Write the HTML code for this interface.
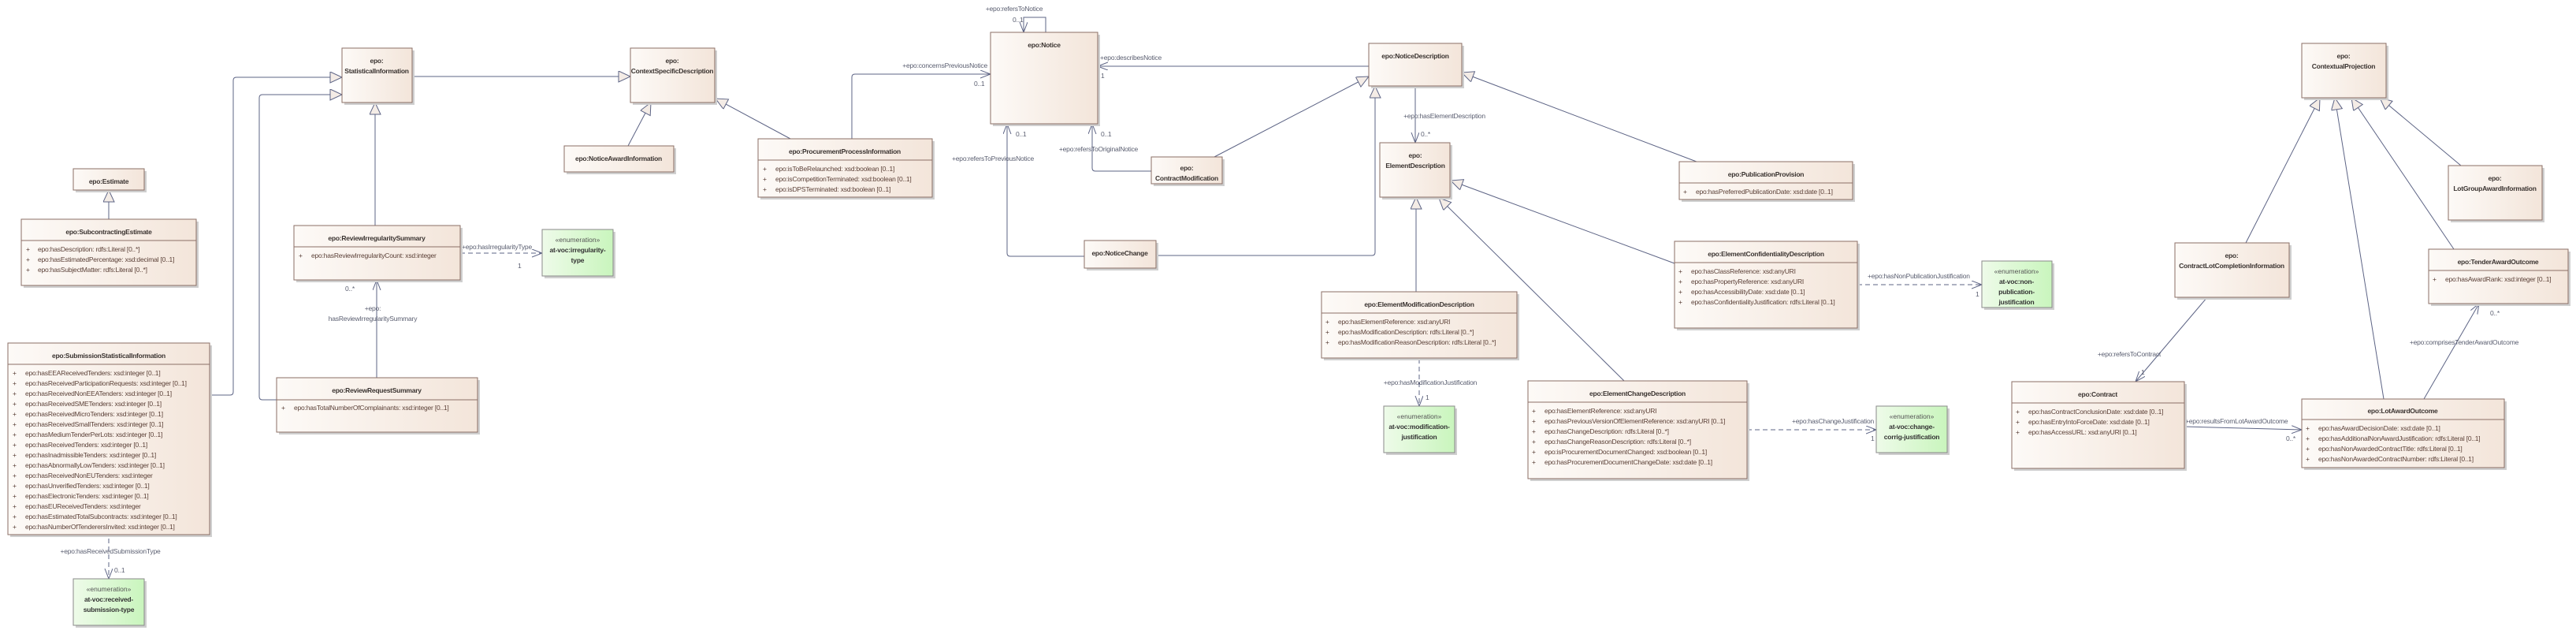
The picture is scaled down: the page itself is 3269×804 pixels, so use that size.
<!DOCTYPE html>
<html><head><meta charset="utf-8"><style>
html,body{margin:0;padding:0;background:#fff;}
svg{display:block;}
text{font-family:"Liberation Sans",sans-serif;font-size:8.5px;}
.t{font-weight:bold;fill:#3a3330;text-anchor:middle;letter-spacing:-0.25px;}
.a{fill:#5a3f36;letter-spacing:-0.2px;}
.l{fill:#5a5e70;letter-spacing:-0.2px;}
.e{fill:#555;text-anchor:middle;}
.eb{font-weight:bold;fill:#333;text-anchor:middle;letter-spacing:-0.2px;}
.c{fill:none;stroke:#5d6485;stroke-width:1;}
.d{fill:none;stroke:#5d6485;stroke-width:1;stroke-dasharray:6,4;}
.box{fill:url(#g);stroke:#8b6f66;stroke-width:1;}
.enum{fill:url(#ge);stroke:#8a8a8a;stroke-width:1;}
.sh{fill:#cfcfcf;}
</style></head><body>
<svg width="3269" height="804" viewBox="0 0 3269 804" xmlns="http://www.w3.org/2000/svg">
<defs>
<linearGradient id="g" x1="0" x2="1" y1="0" y2="0"><stop offset="0" stop-color="#fdfaf7"/><stop offset="1" stop-color="#f3e5da"/></linearGradient>
<linearGradient id="ge" x1="0" x2="1" y1="0" y2="0"><stop offset="0" stop-color="#eefbe9"/><stop offset="1" stop-color="#c9f5bd"/></linearGradient>
<marker id="gen" markerUnits="userSpaceOnUse" markerWidth="18" markerHeight="16" refX="16" refY="7" orient="auto"><path d="M1,0 L16,7 L1,14 z" fill="#f4ece6" stroke="#5d6485" stroke-width="1"/></marker>
<marker id="arr" markerUnits="userSpaceOnUse" markerWidth="14" markerHeight="12" refX="13" refY="5" orient="auto"><path d="M0,0 L13,5 L0,10" fill="none" stroke="#5d6485" stroke-width="1"/></marker>
</defs>

<!-- connectors: generalizations -->
<g class="c" marker-end="url(#gen)">
<path class="c" marker-end="url(#gen)" d="M266,501 H292 Q296,501 296,497 V102 Q296,98 300,98 H434"/>
<path class="c" marker-end="url(#gen)" d="M351,507 H333 Q329,507 329,503 V124 Q329,120 333,120 H434"/>
<path class="c" marker-end="url(#gen)" d="M523,97 H800"/>
<path class="c" marker-end="url(#gen)" d="M476,286 V130"/>
<path class="c" marker-end="url(#gen)" d="M138,278 V241"/>
<path class="c" marker-end="url(#gen)" d="M797,185 L826,130"/>
<path class="c" marker-end="url(#gen)" d="M1003,176 L908,125"/>
<path class="c" marker-end="url(#gen)" d="M1541,199 L1737,97"/>
<path class="c" marker-end="url(#gen)" d="M1467,324 H1741 Q1745,324 1745,320 V109"/>
<path class="c" marker-end="url(#gen)" d="M2153,205 L1855,92"/>
<path class="c" marker-end="url(#gen)" d="M2125,334 L1841,229"/>
<path class="c" marker-end="url(#gen)" d="M2061,483 L1826,251"/>
<path class="c" marker-end="url(#gen)" d="M1797,370 V250"/>
<path class="c" marker-end="url(#gen)" d="M2850,308 L2944,124"/>
<path class="c" marker-end="url(#gen)" d="M3025,506 L2963,124"/>
<path class="c" marker-end="url(#gen)" d="M3114,316 L2984,124"/>
<path class="c" marker-end="url(#gen)" d="M3123,210 L3020,124"/>
</g>
<!-- associations -->
<path class="c" marker-end="url(#arr)" d="M1081,176 V98 Q1081,94 1085,94 H1257"/>
<path class="c" marker-end="url(#arr)" d="M1327,41 V22 H1299 V41"/>
<path class="c" marker-end="url(#arr)" d="M1737,84 H1393"/>
<path class="c" marker-end="url(#arr)" d="M1376,325 H1282 Q1278,325 1278,321 V157"/>
<path class="c" marker-end="url(#arr)" d="M1461,217 H1390 Q1386,217 1386,213 V157"/>
<path class="c" marker-end="url(#arr)" d="M1796,109 V181"/>
<path class="c" marker-end="url(#arr)" d="M478,479 V355"/>
<path class="d" marker-end="url(#arr)" d="M584,321 H688"/>
<path class="d" marker-end="url(#arr)" d="M138,683 V734"/>
<path class="d" marker-end="url(#arr)" d="M1801,455 V515"/>
<path class="d" marker-end="url(#arr)" d="M2217,545 H2381"/>
<path class="d" marker-end="url(#arr)" d="M2357,361 H2515"/>
<path class="c" marker-end="url(#arr)" d="M2801,377 L2710,484"/>
<path class="c" marker-end="url(#arr)" d="M2772,541 L2921,545"/>
<path class="c" marker-end="url(#arr)" d="M3076,506 L3146,385"/>

<!-- connector labels -->
<text class="l" x="586" y="316">+epo:hasIrregularityType</text>
<text class="l" x="657" y="340">1</text>
<text class="l" x="438" y="369">0..*</text>
<text class="l" x="473" y="394" text-anchor="middle">+epo:</text>
<text class="l" x="473" y="407" text-anchor="middle">hasReviewIrregularitySummary</text>
<text class="l" x="140" y="702" text-anchor="middle">+epo:hasReceivedSubmissionType</text>
<text class="l" x="145" y="726">0..1</text>
<text class="l" x="1253" y="86" text-anchor="end">+epo:concernsPreviousNotice</text>
<text class="l" x="1236" y="109">0..1</text>
<text class="l" x="1287" y="14" text-anchor="middle">+epo:refersToNotice</text>
<text class="l" x="1285" y="28">0..1</text>
<text class="l" x="1396" y="76">+epo:describesNotice</text>
<text class="l" x="1397" y="99">1</text>
<text class="l" x="1260" y="204" text-anchor="middle">+epo:refersToPreviousNotice</text>
<text class="l" x="1289" y="173">0..1</text>
<text class="l" x="1394" y="192" text-anchor="middle">+epo:refersToOriginalNotice</text>
<text class="l" x="1397" y="173">0..1</text>
<text class="l" x="1833" y="150" text-anchor="middle">+epo:hasElementDescription</text>
<text class="l" x="1803" y="173">0..*</text>
<text class="l" x="1815" y="488" text-anchor="middle">+epo:hasModificationJustification</text>
<text class="l" x="1809" y="507">1</text>
<text class="l" x="2378" y="537" text-anchor="end">+epo:hasChangeJustification</text>
<text class="l" x="2374" y="559">1</text>
<text class="l" x="2370" y="353">+epo:hasNonPublicationJustification</text>
<text class="l" x="2507" y="376">1</text>
<text class="l" x="2702" y="452" text-anchor="middle">+epo:refersToContract</text>
<text class="l" x="2717" y="475">1</text>
<text class="l" x="2773" y="537">+epo:resultsFromLotAwardOutcome</text>
<text class="l" x="2901" y="559">0..*</text>
<text class="l" x="3127" y="437" text-anchor="middle">+epo:comprisesTenderAwardOutcome</text>
<text class="l" x="3160" y="400">0..*</text>

<!-- simple classes -->
<g>
<rect class="sh" x="437" y="64" width="89" height="69"/><rect class="box" x="434" y="61" width="89" height="69"/>
<text class="t" x="478" y="80">epo:</text><text class="t" x="478" y="93">StatisticalInformation</text>
<rect class="sh" x="803" y="64" width="107" height="69"/><rect class="box" x="800" y="61" width="107" height="69"/>
<text class="t" x="853" y="80">epo:</text><text class="t" x="853" y="93">ContextSpecificDescription</text>
<rect class="sh" x="719" y="188" width="139" height="33"/><rect class="box" x="716" y="185" width="139" height="33"/>
<text class="t" x="785" y="204">epo:NoticeAwardInformation</text>
<rect class="sh" x="96" y="217" width="90" height="27"/><rect class="box" x="93" y="214" width="90" height="27"/>
<text class="t" x="138" y="233">epo:Estimate</text>
<rect class="sh" x="1260" y="44" width="136" height="116"/><rect class="box" x="1257" y="41" width="136" height="116"/>
<text class="t" x="1325" y="60">epo:Notice</text>
<rect class="sh" x="1464" y="202" width="90" height="34"/><rect class="box" x="1461" y="199" width="90" height="34"/>
<text class="t" x="1506" y="216">epo:</text><text class="t" x="1506" y="229">ContractModification</text>
<rect class="sh" x="1379" y="308" width="91" height="35"/><rect class="box" x="1376" y="305" width="91" height="35"/>
<text class="t" x="1421" y="324">epo:NoticeChange</text>
<rect class="sh" x="1740" y="58" width="118" height="54"/><rect class="box" x="1737" y="55" width="118" height="54"/>
<text class="t" x="1796" y="74">epo:NoticeDescription</text>
<rect class="sh" x="1754" y="184" width="89" height="69"/><rect class="box" x="1751" y="181" width="89" height="69"/>
<text class="t" x="1796" y="200">epo:</text><text class="t" x="1796" y="213">ElementDescription</text>
<rect class="sh" x="2924" y="58" width="107" height="69"/><rect class="box" x="2921" y="55" width="107" height="69"/>
<text class="t" x="2974" y="74">epo:</text><text class="t" x="2974" y="87">ContextualProjection</text>
<rect class="sh" x="3110" y="213" width="119" height="69"/><rect class="box" x="3107" y="210" width="119" height="69"/>
<text class="t" x="3166" y="229">epo:</text><text class="t" x="3166" y="242">LotGroupAwardInformation</text>
<rect class="sh" x="2763" y="311" width="145" height="69"/><rect class="box" x="2760" y="308" width="145" height="69"/>
<text class="t" x="2832" y="327">epo:</text><text class="t" x="2832" y="340">ContractLotCompletionInformation</text>
</g>

<!-- classes with attributes -->
<g>
<rect class="sh" x="30" y="281" width="222" height="84"/><rect class="box" x="27" y="278" width="222" height="84"/>
<line x1="27" y1="305" x2="249" y2="305" stroke="#8b6f66"/>
<text class="t" x="138" y="297">epo:SubcontractingEstimate</text>
<text class="a" x="33" y="319">+</text><text class="a" x="48" y="319">epo:hasDescription: rdfs:Literal [0..*]</text>
<text class="a" x="33" y="332">+</text><text class="a" x="48" y="332">epo:hasEstimatedPercentage: xsd:decimal [0..1]</text>
<text class="a" x="33" y="345">+</text><text class="a" x="48" y="345">epo:hasSubjectMatter: rdfs:Literal [0..*]</text>

<rect class="sh" x="376" y="289" width="211" height="69"/><rect class="box" x="373" y="286" width="211" height="69"/>
<line x1="373" y1="313" x2="584" y2="313" stroke="#8b6f66"/>
<text class="t" x="478" y="305">epo:ReviewIrregularitySummary</text>
<text class="a" x="379" y="327">+</text><text class="a" x="395" y="327">epo:hasReviewIrregularityCount: xsd:integer</text>

<rect class="sh" x="13" y="438" width="256" height="243"/><rect class="box" x="10" y="435" width="256" height="243"/>
<line x1="10" y1="462" x2="266" y2="462" stroke="#8b6f66"/>
<text class="t" x="138" y="454">epo:SubmissionStatisticalInformation</text>
<g class="a">
<text x="16" y="476">+</text><text x="32" y="476">epo:hasEEAReceivedTenders: xsd:integer [0..1]</text>
<text x="16" y="489">+</text><text x="32" y="489">epo:hasReceivedParticipationRequests: xsd:integer [0..1]</text>
<text x="16" y="502">+</text><text x="32" y="502">epo:hasReceivedNonEEATenders: xsd:integer [0..1]</text>
<text x="16" y="515">+</text><text x="32" y="515">epo:hasReceivedSMETenders: xsd:integer [0..1]</text>
<text x="16" y="528">+</text><text x="32" y="528">epo:hasReceivedMicroTenders: xsd:integer [0..1]</text>
<text x="16" y="541">+</text><text x="32" y="541">epo:hasReceivedSmallTenders: xsd:integer [0..1]</text>
<text x="16" y="554">+</text><text x="32" y="554">epo:hasMediumTenderPerLots: xsd:integer [0..1]</text>
<text x="16" y="567">+</text><text x="32" y="567">epo:hasReceivedTenders: xsd:integer [0..1]</text>
<text x="16" y="580">+</text><text x="32" y="580">epo:hasInadmissibleTenders: xsd:integer [0..1]</text>
<text x="16" y="593">+</text><text x="32" y="593">epo:hasAbnormallyLowTenders: xsd:integer [0..1]</text>
<text x="16" y="606">+</text><text x="32" y="606">epo:hasReceivedNonEUTenders: xsd:integer</text>
<text x="16" y="619">+</text><text x="32" y="619">epo:hasUnverifiedTenders: xsd:integer [0..1]</text>
<text x="16" y="632">+</text><text x="32" y="632">epo:hasElectronicTenders: xsd:integer [0..1]</text>
<text x="16" y="645">+</text><text x="32" y="645">epo:hasEUReceivedTenders: xsd:integer</text>
<text x="16" y="658">+</text><text x="32" y="658">epo:hasEstimatedTotalSubcontracts: xsd:integer [0..1]</text>
<text x="16" y="671">+</text><text x="32" y="671">epo:hasNumberOfTenderersInvited: xsd:integer [0..1]</text>
</g>

<rect class="sh" x="354" y="482" width="255" height="69"/><rect class="box" x="351" y="479" width="255" height="69"/>
<line x1="351" y1="507" x2="606" y2="507" stroke="#8b6f66"/>
<text class="t" x="478" y="498">epo:ReviewRequestSummary</text>
<text class="a" x="357" y="520">+</text><text class="a" x="373" y="520">epo:hasTotalNumberOfComplainants: xsd:integer [0..1]</text>

<rect class="sh" x="965" y="179" width="221" height="74"/><rect class="box" x="962" y="176" width="221" height="74"/>
<line x1="962" y1="203" x2="1183" y2="203" stroke="#8b6f66"/>
<text class="t" x="1072" y="195">epo:ProcurementProcessInformation</text>
<text class="a" x="968" y="217">+</text><text class="a" x="984" y="217">epo:isToBeRelaunched: xsd:boolean [0..1]</text>
<text class="a" x="968" y="230">+</text><text class="a" x="984" y="230">epo:isCompetitionTerminated: xsd:boolean [0..1]</text>
<text class="a" x="968" y="243">+</text><text class="a" x="984" y="243">epo:isDPSTerminated: xsd:boolean [0..1]</text>

<rect class="sh" x="2134" y="208" width="220" height="48"/><rect class="box" x="2131" y="205" width="220" height="48"/>
<line x1="2131" y1="232" x2="2351" y2="232" stroke="#8b6f66"/>
<text class="t" x="2241" y="224">epo:PublicationProvision</text>
<text class="a" x="2136" y="246">+</text><text class="a" x="2152" y="246">epo:hasPreferredPublicationDate: xsd:date [0..1]</text>

<rect class="sh" x="2128" y="309" width="232" height="110"/><rect class="box" x="2125" y="306" width="232" height="110"/>
<line x1="2125" y1="333" x2="2357" y2="333" stroke="#8b6f66"/>
<text class="t" x="2241" y="325">epo:ElementConfidentialityDescription</text>
<text class="a" x="2130" y="347">+</text><text class="a" x="2146" y="347">epo:hasClassReference: xsd:anyURI</text>
<text class="a" x="2130" y="360">+</text><text class="a" x="2146" y="360">epo:hasPropertyReference: xsd:anyURI</text>
<text class="a" x="2130" y="373">+</text><text class="a" x="2146" y="373">epo:hasAccessibilityDate: xsd:date [0..1]</text>
<text class="a" x="2130" y="386">+</text><text class="a" x="2146" y="386">epo:hasConfidentialityJustification: rdfs:Literal [0..1]</text>

<rect class="sh" x="1680" y="373" width="248" height="84"/><rect class="box" x="1677" y="370" width="248" height="84"/>
<line x1="1677" y1="397" x2="1925" y2="397" stroke="#8b6f66"/>
<text class="t" x="1801" y="389">epo:ElementModificationDescription</text>
<text class="a" x="1682" y="411">+</text><text class="a" x="1698" y="411">epo:hasElementReference: xsd:anyURI</text>
<text class="a" x="1682" y="424">+</text><text class="a" x="1698" y="424">epo:hasModificationDescription: rdfs:Literal [0..*]</text>
<text class="a" x="1682" y="437">+</text><text class="a" x="1698" y="437">epo:hasModificationReasonDescription: rdfs:Literal [0..*]</text>

<rect class="sh" x="1942" y="486" width="278" height="124"/><rect class="box" x="1939" y="483" width="278" height="124"/>
<line x1="1939" y1="510" x2="2217" y2="510" stroke="#8b6f66"/>
<text class="t" x="2078" y="502">epo:ElementChangeDescription</text>
<g class="a">
<text x="1944" y="524">+</text><text x="1960" y="524">epo:hasElementReference: xsd:anyURI</text>
<text x="1944" y="537">+</text><text x="1960" y="537">epo:hasPreviousVersionOfElementReference: xsd:anyURI [0..1]</text>
<text x="1944" y="550">+</text><text x="1960" y="550">epo:hasChangeDescription: rdfs:Literal [0..*]</text>
<text x="1944" y="563">+</text><text x="1960" y="563">epo:hasChangeReasonDescription: rdfs:Literal [0..*]</text>
<text x="1944" y="576">+</text><text x="1960" y="576">epo:isProcurementDocumentChanged: xsd:boolean [0..1]</text>
<text x="1944" y="589">+</text><text x="1960" y="589">epo:hasProcurementDocumentChangeDate: xsd:date [0..1]</text>
</g>

<rect class="sh" x="3085" y="319" width="177" height="69"/><rect class="box" x="3082" y="316" width="177" height="69"/>
<line x1="3082" y1="343" x2="3259" y2="343" stroke="#8b6f66"/>
<text class="t" x="3170" y="335">epo:TenderAwardOutcome</text>
<text class="a" x="3087" y="357">+</text><text class="a" x="3103" y="357">epo:hasAwardRank: xsd:integer [0..1]</text>

<rect class="sh" x="2556" y="487" width="219" height="110"/><rect class="box" x="2553" y="484" width="219" height="110"/>
<line x1="2553" y1="511" x2="2772" y2="511" stroke="#8b6f66"/>
<text class="t" x="2662" y="503">epo:Contract</text>
<text class="a" x="2558" y="525">+</text><text class="a" x="2574" y="525">epo:hasContractConclusionDate: xsd:date [0..1]</text>
<text class="a" x="2558" y="538">+</text><text class="a" x="2574" y="538">epo:hasEntryIntoForceDate: xsd:date [0..1]</text>
<text class="a" x="2558" y="551">+</text><text class="a" x="2574" y="551">epo:hasAccessURL: xsd:anyURI [0..1]</text>

<rect class="sh" x="2924" y="509" width="257" height="87"/><rect class="box" x="2921" y="506" width="257" height="87"/>
<line x1="2921" y1="532" x2="3178" y2="532" stroke="#8b6f66"/>
<text class="t" x="3049" y="524">epo:LotAwardOutcome</text>
<text class="a" x="2926" y="546">+</text><text class="a" x="2942" y="546">epo:hasAwardDecisionDate: xsd:date [0..1]</text>
<text class="a" x="2926" y="559">+</text><text class="a" x="2942" y="559">epo:hasAdditionalNonAwardJustification: rdfs:Literal [0..1]</text>
<text class="a" x="2926" y="572">+</text><text class="a" x="2942" y="572">epo:hasNonAwardedContractTitle: rdfs:Literal [0..1]</text>
<text class="a" x="2926" y="585">+</text><text class="a" x="2942" y="585">epo:hasNonAwardedContractNumber: rdfs:Literal [0..1]</text>
</g>

<!-- enumerations -->
<g>
<rect class="sh" x="691" y="294" width="90" height="59"/><rect class="enum" x="688" y="291" width="90" height="59"/>
<text class="e" x="733" y="307">«enumeration»</text><text class="eb" x="733" y="320">at-voc:irregularity-</text><text class="eb" x="733" y="333">type</text>
<rect class="sh" x="96" y="737" width="90" height="59"/><rect class="enum" x="93" y="734" width="90" height="59"/>
<text class="e" x="138" y="750">«enumeration»</text><text class="eb" x="138" y="763">at-voc:received-</text><text class="eb" x="138" y="776">submission-type</text>
<rect class="sh" x="1759" y="518" width="90" height="59"/><rect class="enum" x="1756" y="515" width="90" height="59"/>
<text class="e" x="1801" y="531">«enumeration»</text><text class="eb" x="1801" y="544">at-voc:modification-</text><text class="eb" x="1801" y="557">justification</text>
<rect class="sh" x="2384" y="518" width="90" height="59"/><rect class="enum" x="2381" y="515" width="90" height="59"/>
<text class="e" x="2426" y="531">«enumeration»</text><text class="eb" x="2426" y="544">at-voc:change-</text><text class="eb" x="2426" y="557">corrig-justification</text>
<rect class="sh" x="2518" y="334" width="89" height="59"/><rect class="enum" x="2515" y="331" width="89" height="59"/>
<text class="e" x="2559" y="347">«enumeration»</text><text class="eb" x="2559" y="360">at-voc:non-</text><text class="eb" x="2559" y="373">publication-</text><text class="eb" x="2559" y="386">justification</text>
</g>
</svg>
</body></html>
